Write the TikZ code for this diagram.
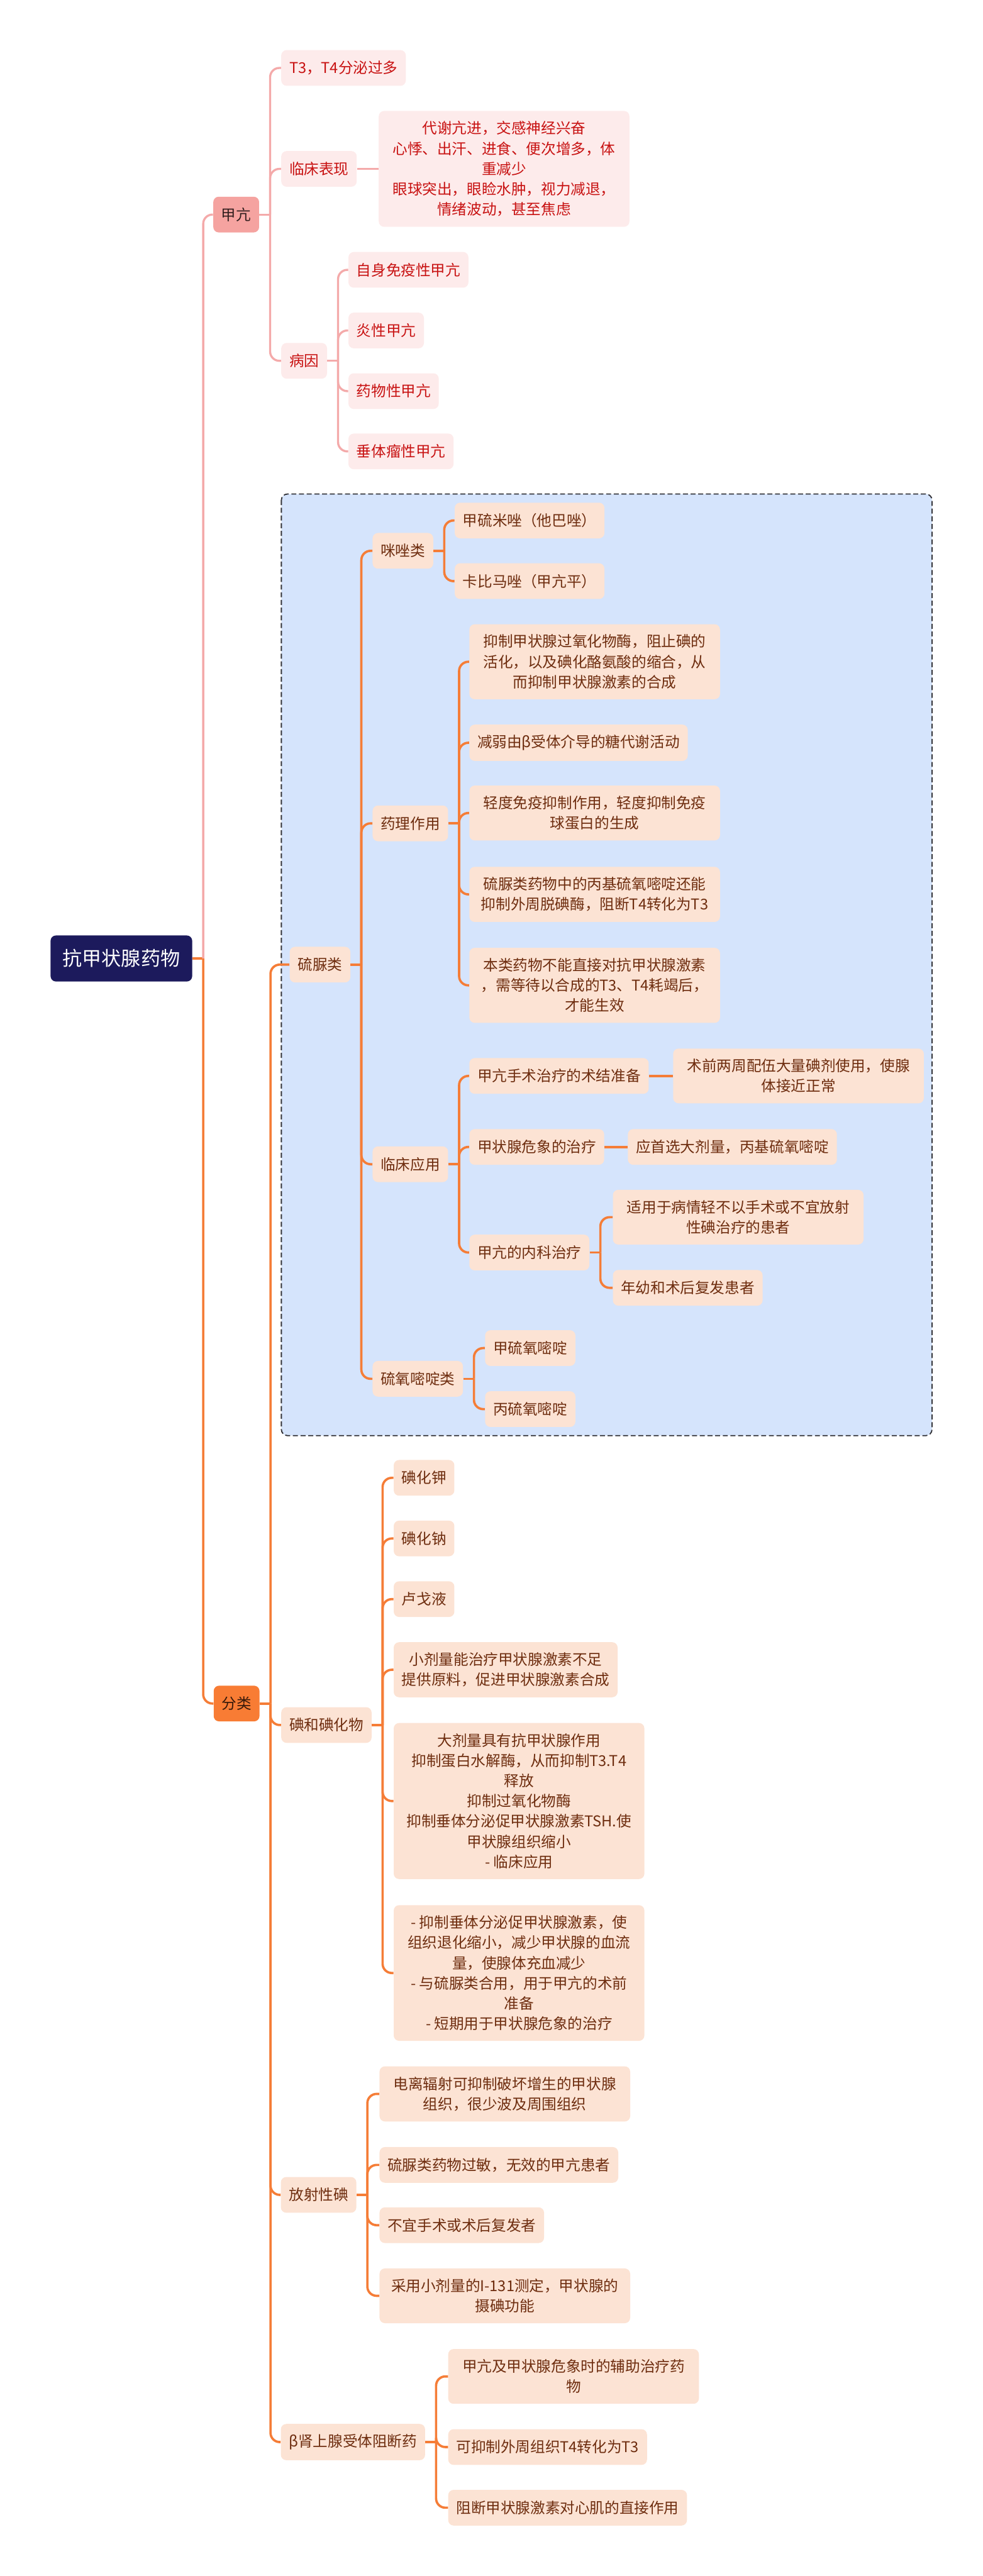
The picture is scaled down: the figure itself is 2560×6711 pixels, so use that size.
\documentclass[tikz,border=0pt]{standalone}
\usepackage{fontspec}
\setmainfont{Noto Sans CJK SC}
\usetikzlibrary{positioning}
\definecolor{navy}{RGB}{28,26,92}
\definecolor{pkline}{RGB}{244,170,170}
\definecolor{pkmid}{RGB}{245,163,160}
\definecolor{pksoft}{RGB}{253,235,235}
\definecolor{pktext}{RGB}{200,18,18}
\definecolor{pkhtext}{RGB}{50,30,30}
\definecolor{orline}{RGB}{245,125,55}
\definecolor{ormid}{RGB}{248,124,52}
\definecolor{orsoft}{RGB}{252,227,212}
\definecolor{ortext}{RGB}{110,45,15}
\definecolor{orhtext}{RGB}{55,25,10}
\definecolor{boxblue}{RGB}{213,228,252}
\definecolor{boxedge}{RGB}{50,50,55}
\tikzset{
  base/.style={anchor=west,rounded corners=1.4mm,inner xsep=2.1mm,inner ysep=2.7mm,
    minimum height=9.3mm,align=center,font=\fontsize{11pt}{15pt}\selectfont},
  rootbox/.style={base,fill=navy,text=white,minimum width=36.9mm,minimum height=12mm,
    font=\fontsize{14.5pt}{18pt}\selectfont},
  pkhead/.style={base,fill=pkmid,text=pkhtext},
  pkleaf/.style={base,fill=pksoft,text=pktext},
  orhead/.style={base,fill=ormid,text=orhtext},
  orleaf/.style={base,fill=orsoft,text=ortext},
  wide/.style={minimum width=65.3mm},
  pkln/.style={draw=pkline,line width=0.55mm,rounded corners=2.4mm},
  orln/.style={draw=orline,line width=0.6mm,rounded corners=2.4mm},
  groupbox/.style={draw=boxedge,fill=boxblue,line width=0.3mm,
    dash pattern=on 1.3mm off 0.7mm,rounded corners=1.6mm},
}

\begin{document}
\begin{tikzpicture}[x=0.1mm,y=-0.1mm]
\useasboundingbox (0,0) rectangle (2560,6711);
% dashed group round the thiourea part
\draw[groupbox] (733,1287) rectangle (2428,3740);

\node[rootbox] (root) at (131,2497) {抗甲状腺药物};

% hyperthyroidism
\node[pkhead] (jk) at (555,559) {甲亢};
\node[pkleaf] (t3) at (732,177) {T3，T4分泌过多};
\node[pkleaf] (lc) at (732,440) {临床表现};
\node[pkleaf,wide] (lcx) at (986,440) {代谢亢进，交感神经兴奋\\心悸、出汗、进食、便次增多，体\\重减少\\眼球突出，眼睑水肿，视力减退，\\情绪波动，甚至焦虑};
\node[pkleaf] (by) at (732,940) {病因};
\node[pkleaf] (by1) at (907,703) {自身免疫性甲亢};
\node[pkleaf] (by2) at (907,861) {炎性甲亢};
\node[pkleaf] (by3) at (907,1019) {药物性甲亢};
\node[pkleaf] (by4) at (907,1176) {垂体瘤性甲亢};

% classes
\node[orhead] (fl) at (556,4438) {分类};
\node[orleaf] (ln) at (754,2513) {硫脲类};
\node[orleaf] (mz) at (970,1435) {咪唑类};
\node[orleaf] (mz1) at (1184,1356) {甲硫米唑（他巴唑）};
\node[orleaf] (mz2) at (1184,1514) {卡比马唑（甲亢平）};
\node[orleaf] (yl) at (970,2145) {药理作用};
\node[orleaf,wide] (yl1) at (1222,1724) {抑制甲状腺过氧化物酶，阻止碘的\\活化，以及碘化酪氨酸的缩合，从\\而抑制甲状腺激素的合成};
\node[orleaf] (yl2) at (1222,1935) {减弱由β受体介导的糖代谢活动};
\node[orleaf,wide] (yl3) at (1222,2118) {轻度免疫抑制作用，轻度抑制免疫\\球蛋白的生成};
\node[orleaf,wide] (yl4) at (1222,2330) {硫脲类药物中的丙基硫氧嘧啶还能\\抑制外周脱碘酶，阻断T4转化为T3};
\node[orleaf,wide] (yl5) at (1222,2567) {本类药物不能直接对抗甲状腺激素\\，需等待以合成的T3、T4耗竭后，\\才能生效};
\node[orleaf] (cy) at (970,3033) {临床应用};
\node[orleaf] (cy1) at (1222,2803) {甲亢手术治疗的术结准备};
\node[orleaf,wide] (cy1x) at (1753,2803) {术前两周配伍大量碘剂使用，使腺\\体接近正常};
\node[orleaf] (cy2) at (1222,2988) {甲状腺危象的治疗};
\node[orleaf] (cy2x) at (1635,2988) {应首选大剂量，丙基硫氧嘧啶};
\node[orleaf] (cy3) at (1222,3263) {甲亢的内科治疗};
\node[orleaf,wide] (cy3a) at (1596,3171) {适用于病情轻不以手术或不宜放射\\性碘治疗的患者};
\node[orleaf] (cy3b) at (1596,3355) {年幼和术后复发患者};
\node[orleaf] (ly) at (970,3592) {硫氧嘧啶类};
\node[orleaf] (ly1) at (1263,3512) {甲硫氧嘧啶};
\node[orleaf] (ly2) at (1263,3671) {丙硫氧嘧啶};
\node[orleaf] (dh) at (732,4494) {碘和碘化物};
\node[orleaf] (dh1) at (1025,3850) {碘化钾};
\node[orleaf] (dh2) at (1025,4008) {碘化钠};
\node[orleaf] (dh3) at (1025,4166) {卢戈液};
\node[orleaf] (dh4) at (1025,4350) {小剂量能治疗甲状腺激素不足\\提供原料，促进甲状腺激素合成};
\node[orleaf,wide] (dh5) at (1025,4692) {大剂量具有抗甲状腺作用\\抑制蛋白水解酶，从而抑制T3.T4\\释放\\抑制过氧化物酶\\抑制垂体分泌促甲状腺激素TSH.使\\甲状腺组织缩小\\- 临床应用};
\node[orleaf,wide] (dh6) at (1025,5140) {- 抑制垂体分泌促甲状腺激素，使\\组织退化缩小，减少甲状腺的血流\\量，使腺体充血减少\\- 与硫脲类合用，用于甲亢的术前\\准备\\- 短期用于甲状腺危象的治疗};
\node[orleaf] (fs) at (731,5718) {放射性碘};
\node[orleaf,wide] (fs1) at (988,5455) {电离辐射可抑制破坏增生的甲状腺\\组织，很少波及周围组织};
\node[orleaf] (fs2) at (988,5640) {硫脲类药物过敏，无效的甲亢患者};
\node[orleaf] (fs3) at (988,5797) {不宜手术或术后复发者};
\node[orleaf,wide] (fs4) at (988,5981) {采用小剂量的I-131测定，甲状腺的\\摄碘功能};
\node[orleaf] (bz) at (731,6362) {β肾上腺受体阻断药};
\node[orleaf,wide] (bz1) at (1167,6191) {甲亢及甲状腺危象时的辅助治疗药\\物};
\node[orleaf] (bz2) at (1167,6375) {可抑制外周组织T4转化为T3};
\node[orleaf] (bz3) at (1167,6533) {阻断甲状腺激素对心肌的直接作用};

% connectors
\draw[orln] (root.east) -- ++(2.8mm,0) coordinate (root-x);
\draw[pkln] (root-x) |- (jk.west);
\draw[orln] (root-x) |- (fl.west);
\foreach \p/\kids in {jk/{t3,lc,by}, by/{by1,by2,by3,by4}}{
  \draw[pkln] (\p.east) -- ++(2.8mm,0) coordinate (\p-x);
  \foreach \k in \kids \draw[pkln] (\p-x) |- (\k.west);
}
\draw[pkln] (lc) -- (lcx);
\foreach \p/\kids in {fl/{ln,dh,fs,bz}, ln/{mz,yl,cy,ly}, mz/{mz1,mz2},
    yl/{yl1,yl2,yl3,yl4,yl5}, cy/{cy1,cy2,cy3}, cy3/{cy3a,cy3b}, ly/{ly1,ly2},
    dh/{dh1,dh2,dh3,dh4,dh5,dh6}, fs/{fs1,fs2,fs3,fs4}, bz/{bz1,bz2,bz3}}{
  \draw[orln] (\p.east) -- ++(2.8mm,0) coordinate (\p-x);
  \foreach \k in \kids \draw[orln] (\p-x) |- (\k.west);
}
\draw[orln] (cy1) -- (cy1x);
\draw[orln] (cy2) -- (cy2x);
\end{tikzpicture}
\end{document}
